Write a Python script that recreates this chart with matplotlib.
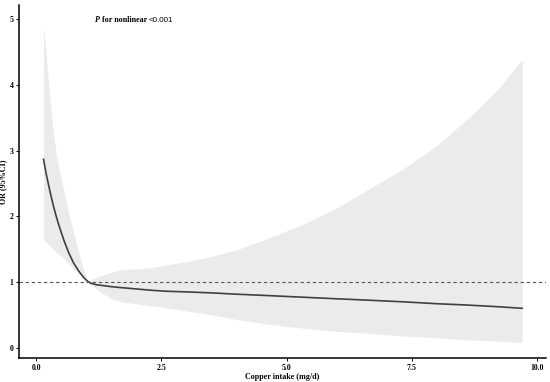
import matplotlib
matplotlib.use("Agg")
import matplotlib.pyplot as plt
from matplotlib.offsetbox import TextArea, HPacker, AnchoredOffsetbox

# values
copper = [0.15, 0.2, 0.25, 0.3, 0.35, 0.4, 0.45, 0.55, 0.65, 0.75,
          0.85, 0.95, 1.03, 1.1, 1.2, 1.3, 1.5, 1.7, 2.0, 2.3,
          2.6, 3.0, 3.5, 4.0, 4.6, 5.3, 6.0, 6.6, 7.3, 8.0,
          8.6, 9.2, 9.7]
odds = [2.87, 2.66, 2.48, 2.31, 2.15, 2.01, 1.88, 1.65, 1.45, 1.29,
        1.17, 1.07, 1.01, 0.98, 0.96, 0.95, 0.93, 0.915, 0.895, 0.875,
        0.86, 0.85, 0.835, 0.815, 0.795, 0.77, 0.745, 0.725, 0.70, 0.67,
        0.65, 0.625, 0.60]
ci_upper = [4.90, 4.48, 4.05, 3.62, 3.25, 2.97, 2.75, 2.41, 2.05, 1.75,
            1.45, 1.19, 1.02, 1.04, 1.07, 1.10, 1.15, 1.19, 1.20, 1.22,
            1.26, 1.31, 1.39, 1.49, 1.66, 1.87, 2.13, 2.40, 2.71, 3.08,
            3.48, 3.92, 4.39]
ci_lower = [1.65, 1.61, 1.58, 1.54, 1.50, 1.46, 1.43, 1.36, 1.28, 1.20,
            1.13, 1.06, 1.00, 0.96, 0.90, 0.84, 0.75, 0.70, 0.67, 0.64,
            0.61, 0.56, 0.50, 0.43, 0.36, 0.30, 0.25, 0.22, 0.18, 0.15,
            0.12, 0.10, 0.08]

xticks = [0.0, 2.5, 5.0, 7.5, 10.0]
yticks = [0, 1, 2, 3, 4, 5]
ref_or = 1

serif = "Liberation Serif"

fig = plt.figure(figsize=(5.5, 3.82), dpi=100)
ax = fig.add_axes([0.0345, 0.0628, 0.9577, 0.9241])

ax.fill_between(copper, ci_lower, ci_upper, color="#ebebeb", lw=0)
ax.plot(copper, odds, color="#404040", lw=1.2)
ax.axhline(ref_or, color="#555555", lw=0.8, ls=(0, (3, 2.5)))

ax.set_xlim(-0.34, 10.17)
ax.set_ylim(-0.157, 5.22)
ax.set_xticks(xticks)
ax.set_xticklabels([f"{t:.1f}" for t in xticks])
ax.set_yticks(yticks)
ax.set_yticklabels([str(t) for t in yticks])

for s in ["top", "right"]:
    ax.spines[s].set_visible(False)
for s in ["left", "bottom"]:
    ax.spines[s].set_linewidth(1.1)
ax.tick_params(direction="out", length=2, width=0.7, pad=2)
for lab in ax.get_xticklabels() + ax.get_yticklabels():
    lab.set_fontfamily(serif)
    lab.set_fontweight("bold")
    lab.set_fontsize(5.6)

ax.set_xlabel("Copper intake (mg/d)", family=serif, weight="bold",
              fontsize=5.8, labelpad=1)
ax.set_ylabel("OR (95%CI)", family=serif, weight="bold", fontsize=5.8)
ax.yaxis.set_label_coords(-0.022, 0.5)

# annotation with mixed fonts
parts = [
    TextArea("P", textprops=dict(family=serif, weight="bold", style="italic", size=5.8)),
    TextArea(" for nonlinear ", textprops=dict(family=serif, weight="bold", size=5.8)),
    TextArea("<0.001", textprops=dict(family="Liberation Sans", size=5.8)),
]
box = HPacker(children=parts, align="baseline", pad=0, sep=0)
anchored = AnchoredOffsetbox(loc="center left", child=box, pad=0, frameon=False,
                             bbox_to_anchor=(0.144, 0.957),
                             bbox_transform=ax.transAxes, borderpad=0)
ax.add_artist(anchored)

fig.savefig("out.png", dpi=100)
